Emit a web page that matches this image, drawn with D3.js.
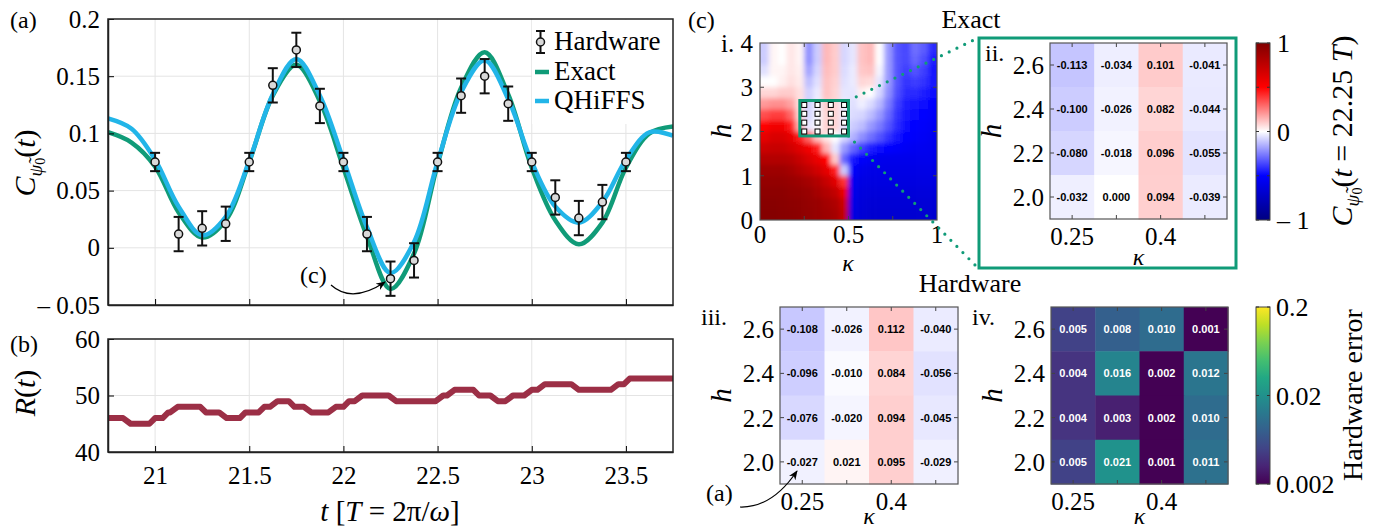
<!DOCTYPE html>
<html>
<head>
<meta charset="utf-8">
<script src="https://d3js.org/d3.v7.min.js"></script>
<style>
  body { margin: 0; background: #fff; }
  text { font-family: 'Liberation Serif', 'DejaVu Serif', serif; fill: #000; }
  .num { font-family: 'Liberation Sans', Arial, sans-serif; font-weight: bold; font-size: 11px; }
</style>
</head>
<body>
<svg id="fig" width="1377" height="529"></svg>
<script>
// ---------- panel (a): correlator vs time ----------
const tCurve = [20.75, 20.875, 21, 21.125, 21.25, 21.375, 21.5, 21.625, 21.75, 21.875, 22, 22.125, 22.25,
                22.375, 22.5, 22.625, 22.75, 22.875, 23, 23.125, 23.25, 23.375, 23.5, 23.625, 23.75];
const exactVal = [0.101, 0.092, 0.071, 0.031, 0.009, 0.024, 0.075, 0.133, 0.160, 0.128, 0.070, 0.010, -0.036,
                  -0.005, 0.073, 0.140, 0.171, 0.134, 0.070, 0.024, 0.003, 0.022, 0.070, 0.100, 0.106];
const qhiffsVal = [0.113, 0.104, 0.077, 0.036, 0.011, 0.027, 0.076, 0.134, 0.165, 0.133, 0.077, 0.018, -0.022,
                   0.005, 0.075, 0.136, 0.164, 0.130, 0.075, 0.036, 0.022, 0.040, 0.077, 0.101, 0.098];
const tHw = [21, 21.125, 21.25, 21.375, 21.5, 21.625, 21.75, 21.875, 22, 22.125, 22.25, 22.375, 22.5,
             22.625, 22.75, 22.875, 23, 23.125, 23.25, 23.375, 23.5];
const hwVal = [0.075, 0.012, 0.017, 0.021, 0.075, 0.142, 0.173, 0.124, 0.075, 0.012, -0.027, -0.011, 0.075,
               0.133, 0.150, 0.126, 0.075, 0.044, 0.026, 0.040, 0.075];
const hwErr = [0.008, 0.015, 0.015, 0.015, 0.008, 0.015, 0.015, 0.015, 0.008, 0.015, 0.015, 0.015, 0.008,
               0.015, 0.015, 0.015, 0.008, 0.015, 0.015, 0.015, 0.008];
const tTicks = [21, 21.5, 22, 22.5, 23, 23.5];
const tTickLabels = ["21", "21.5", "22", "22.5", "23", "23.5"];
const cTicks = [-0.05, 0, 0.05, 0.1, 0.15, 0.2];
const cTickLabels = ["\u2013 0.05", "0", "0.05", "0.1", "0.15", "0.2"];

// ---------- panel (b): R(t) ----------
const rT = [20.75, 20.83, 20.87, 20.97, 21.0, 21.04, 21.07, 21.08, 21.12, 21.24, 21.27, 21.34, 21.38, 21.45,
            21.48, 21.55, 21.58, 21.61, 21.65, 21.71, 21.74, 21.79, 21.83, 21.92, 21.96, 22.0, 22.03, 22.06,
            22.1, 22.24, 22.28, 22.49, 22.53, 22.55, 22.59, 22.69, 22.72, 22.78, 22.82, 22.86, 22.9, 22.96,
            23.0, 23.03, 23.07, 23.21, 23.25, 23.42, 23.46, 23.49, 23.52, 23.75];
const rV = [46, 46, 45, 45, 46, 46, 47, 47, 48, 48, 47, 47, 46, 46,
            47, 47, 48, 48, 49, 49, 48, 48, 47, 47, 48, 48, 49, 49,
            50, 50, 49, 49, 50, 50, 51, 51, 50, 50, 49, 49, 50, 50,
            51, 51, 52, 52, 51, 51, 52, 52, 53, 53];
const rTicks = [40, 50, 60];

// ---------- panel (c) i: exact map C(kappa, h) ----------
const kappaGrid = [0.025, 0.075, 0.125, 0.175, 0.225, 0.275, 0.325, 0.375, 0.425, 0.475,
                   0.525, 0.575, 0.625, 0.675, 0.725, 0.775, 0.825, 0.875, 0.925, 0.975];
const hGrid = [3.875, 3.625, 3.375, 3.125, 2.875, 2.625, 2.375, 2.125, 1.875, 1.625, 1.375, 1.125, 0.875, 0.625, 0.375, 0.125];
const field = [
  [-0.10, 0.02, 0.00, 0.05, 0.02, -0.22, -0.10, 0.14, 0.10, -0.08, -0.05, 0.12, 0.14, 0.00, -0.20, -0.34, -0.36, -0.28, -0.32, -0.42],
  [-0.10, 0.02, 0.00, 0.05, 0.02, -0.22, -0.10, 0.14, 0.10, -0.08, -0.05, 0.12, 0.14, 0.00, -0.20, -0.34, -0.36, -0.30, -0.35, -0.44],
  [-0.06, 0.02, 0.02, 0.05, 0.03, -0.18, -0.08, 0.13, 0.10, -0.07, -0.04, 0.11, 0.12, -0.02, -0.20, -0.34, -0.38, -0.34, -0.38, -0.45],
  [0.00, 0.00, 0.03, 0.06, 0.04, -0.13, -0.06, 0.12, 0.09, -0.06, -0.04, 0.08, 0.07, -0.05, -0.20, -0.34, -0.40, -0.38, -0.40, -0.46],
  [0.08, 0.08, 0.10, 0.10, 0.06, -0.09, -0.04, 0.12, 0.08, -0.05, -0.05, 0.03, 0.00, -0.08, -0.22, -0.35, -0.42, -0.42, -0.44, -0.48],
  [0.20, 0.22, 0.22, 0.18, 0.06, -0.09, -0.03, 0.10, 0.08, -0.04, -0.06, -0.03, -0.07, -0.14, -0.26, -0.38, -0.44, -0.46, -0.47, -0.50],
  [0.35, 0.38, 0.38, 0.30, 0.08, -0.08, -0.02, 0.08, 0.08, -0.04, -0.07, -0.08, -0.13, -0.20, -0.30, -0.40, -0.45, -0.48, -0.50, -0.52],
  [0.50, 0.55, 0.55, 0.45, 0.15, -0.05, -0.01, 0.09, 0.08, -0.05, -0.10, -0.13, -0.20, -0.26, -0.34, -0.42, -0.47, -0.50, -0.52, -0.54],
  [0.60, 0.65, 0.65, 0.60, 0.45, 0.30, 0.12, 0.05, 0.00, -0.08, -0.15, -0.22, -0.28, -0.34, -0.40, -0.45, -0.49, -0.52, -0.54, -0.56],
  [0.70, 0.72, 0.72, 0.68, 0.62, 0.55, 0.45, 0.15, -0.05, -0.20, -0.30, -0.38, -0.44, -0.48, -0.50, -0.52, -0.54, -0.55, -0.56, -0.57],
  [0.80, 0.80, 0.80, 0.78, 0.72, 0.65, 0.58, 0.50, 0.10, -0.30, -0.45, -0.52, -0.55, -0.57, -0.58, -0.58, -0.58, -0.58, -0.58, -0.58],
  [0.88, 0.88, 0.88, 0.85, 0.80, 0.75, 0.68, 0.60, 0.45, -0.10, -0.52, -0.58, -0.60, -0.60, -0.60, -0.60, -0.60, -0.60, -0.60, -0.60],
  [0.92, 0.92, 0.92, 0.90, 0.88, 0.85, 0.80, 0.72, 0.62, 0.40, -0.56, -0.61, -0.62, -0.62, -0.62, -0.62, -0.62, -0.62, -0.62, -0.62],
  [0.95, 0.95, 0.95, 0.93, 0.92, 0.90, 0.85, 0.80, 0.74, 0.58, -0.58, -0.63, -0.64, -0.64, -0.64, -0.64, -0.64, -0.64, -0.64, -0.64],
  [0.97, 0.97, 0.96, 0.95, 0.94, 0.92, 0.90, 0.86, 0.82, 0.70, -0.60, -0.65, -0.66, -0.66, -0.66, -0.66, -0.66, -0.66, -0.66, -0.66],
  [0.98, 0.98, 0.97, 0.96, 0.95, 0.93, 0.91, 0.88, 0.85, 0.74, -0.62, -0.66, -0.68, -0.68, -0.68, -0.68, -0.68, -0.68, -0.68, -0.68]
];

// ---------- panels ii, iii, iv: 4x4 zoom ----------
const kCells = [0.25, 0.325, 0.4, 0.475];
const kLabels = ["0.25", "", "0.4", ""];
const hCells = [2.6, 2.4, 2.2, 2.0];
const hLabels = ["2.6", "2.4", "2.2", "2.0"];
const exactCells = [
  [-0.113, -0.034, 0.101, -0.041],
  [-0.100, -0.026, 0.082, -0.044],
  [-0.080, -0.018, 0.096, -0.055],
  [-0.032, 0.000, 0.094, -0.039]
];
const hwCells = [
  [-0.108, -0.026, 0.112, -0.040],
  [-0.096, -0.010, 0.084, -0.056],
  [-0.076, -0.020, 0.094, -0.045],
  [-0.027, 0.021, 0.095, -0.029]
];
const errCells = [
  [0.005, 0.008, 0.010, 0.001],
  [0.004, 0.016, 0.002, 0.012],
  [0.004, 0.003, 0.002, 0.010],
  [0.005, 0.021, 0.001, 0.011]
];

const green = "#109b78", cyan = "#22b5e8", maroon = "#9c2f46";
const tickFont = 25;

const svg = d3.select("#fig");
const defs = svg.append("defs");
defs.append("marker").attr("id", "arr").attr("viewBox", "0 0 10 10").attr("refX", 9).attr("refY", 5)
  .attr("markerWidth", 8).attr("markerHeight", 8).attr("orient", "auto")
  .append("path").attr("d", "M0,1 L10,5 L0,9 L3,5 z").attr("fill", "#000");

const redBlue = d3.scaleLinear().domain([-1, -0.5, 0, 0.5, 1])
  .range(["#000080", "#0000ff", "#ffffff", "#ff0000", "#800000"]).clamp(true);
const errColor = d3.scaleLog().domain([0.002, 0.2]).range([0, 1]).clamp(true);

function label(x, y, str, size, anchor) {
  return svg.append("text").attr("x", x).attr("y", y).attr("font-size", size)
    .attr("text-anchor", anchor || "start").text(str);
}

// correlator symbol C_{psi~0}(...) as tspans
function corrLabel(x, y, tail) {
  const t = svg.append("text").attr("transform", `translate(${x},${y}) rotate(-90)`)
    .attr("text-anchor", "middle").attr("font-size", 30);
  t.append("tspan").attr("font-style", "italic").text("C");
  t.append("tspan").attr("font-size", 19).attr("font-style", "italic").attr("dy", 7).text("\u03c8\u0303");
  t.append("tspan").attr("font-size", 14).attr("dy", 3).text("0");
  t.append("tspan").attr("dy", -10).text("(");
  tail.forEach(p => t.append("tspan").attr("font-style", p[1] ? "italic" : "normal").text(p[0]));
  return t;
}

// ================= panel (a) =================
const xT = d3.scaleLinear().domain([20.75, 23.75]).range([108, 673]);
const yA = d3.scaleLinear().domain([-0.05, 0.2]).range([305, 19]);
const yB = d3.scaleLinear().domain([40, 60]).range([452, 339]);

const gA = svg.append("g");
tTicks.forEach(t => gA.append("line").attr("x1", xT(t)).attr("x2", xT(t)).attr("y1", yA(0.2)).attr("y2", yA(-0.05))
  .attr("stroke", "#e4e4e4"));
[0, 0.05, 0.1, 0.15].forEach(v => gA.append("line").attr("x1", xT.range()[0]).attr("x2", xT.range()[1])
  .attr("y1", yA(v)).attr("y2", yA(v)).attr("stroke", "#e4e4e4"));

defs.append("clipPath").attr("id", "clipA").append("rect")
  .attr("x", 108).attr("y", 19).attr("width", 565).attr("height", 286);

const curveLine = d3.line().x(d => xT(d[0])).y(d => yA(d[1])).curve(d3.curveCatmullRom.alpha(0.5));
gA.append("path").attr("clip-path", "url(#clipA)")
  .attr("d", curveLine(tCurve.map((t, i) => [t, exactVal[i]])))
  .attr("fill", "none").attr("stroke", green).attr("stroke-width", 4.5);
gA.append("path").attr("clip-path", "url(#clipA)")
  .attr("d", curveLine(tCurve.map((t, i) => [t, qhiffsVal[i]])))
  .attr("fill", "none").attr("stroke", cyan).attr("stroke-width", 4.5);

const hw = gA.selectAll("g.hw").data(tHw.map((t, i) => ({ t: t, v: hwVal[i], e: hwErr[i] })))
  .enter().append("g");
hw.append("line").attr("x1", d => xT(d.t)).attr("x2", d => xT(d.t))
  .attr("y1", d => yA(d.v + d.e)).attr("y2", d => yA(d.v - d.e)).attr("stroke", "#111").attr("stroke-width", 2);
hw.append("line").attr("x1", d => xT(d.t) - 5).attr("x2", d => xT(d.t) + 5)
  .attr("y1", d => yA(d.v + d.e)).attr("y2", d => yA(d.v + d.e)).attr("stroke", "#111").attr("stroke-width", 2);
hw.append("line").attr("x1", d => xT(d.t) - 5).attr("x2", d => xT(d.t) + 5)
  .attr("y1", d => yA(d.v - d.e)).attr("y2", d => yA(d.v - d.e)).attr("stroke", "#111").attr("stroke-width", 2);
hw.append("circle").attr("cx", d => xT(d.t)).attr("cy", d => yA(d.v)).attr("r", 4)
  .attr("fill", "#d9d9d9").attr("stroke", "#111").attr("stroke-width", 1.5);

// axes (a)
gA.append("g").attr("transform", "translate(108,0)")
  .call(d3.axisLeft(yA).tickValues(cTicks).tickFormat((d, i) => cTickLabels[i]).tickSizeInner(-6).tickSizeOuter(0).tickPadding(8));
gA.append("g").attr("transform", "translate(0,305)")
  .call(d3.axisBottom(xT).tickValues(tTicks).tickFormat("").tickSizeInner(-6).tickSizeOuter(0));
gA.append("rect").attr("x", 108).attr("y", 19).attr("width", 565).attr("height", 286)
  .attr("fill", "none").attr("stroke", "#222").attr("stroke-width", 1.5);

// legend
const leg = gA.append("g");
leg.append("rect").attr("x", 532).attr("y", 20).attr("width", 140).attr("height", 104).attr("fill", "#fff");
leg.append("line").attr("x1", 540.5).attr("x2", 540.5).attr("y1", 31).attr("y2", 53).attr("stroke", "#111").attr("stroke-width", 2);
leg.append("line").attr("x1", 536).attr("x2", 545).attr("y1", 31).attr("y2", 31).attr("stroke", "#111").attr("stroke-width", 2);
leg.append("line").attr("x1", 536).attr("x2", 545).attr("y1", 53).attr("y2", 53).attr("stroke", "#111").attr("stroke-width", 2);
leg.append("circle").attr("cx", 540.5).attr("cy", 42).attr("r", 4).attr("fill", "#d9d9d9").attr("stroke", "#111").attr("stroke-width", 1.5);
leg.append("line").attr("x1", 535).attr("x2", 549).attr("y1", 72).attr("y2", 72).attr("stroke", green).attr("stroke-width", 4.5);
leg.append("line").attr("x1", 535).attr("x2", 549).attr("y1", 101).attr("y2", 101).attr("stroke", cyan).attr("stroke-width", 4.5);
[["Hardware", 50], ["Exact", 80], ["QHiFFS", 109]].forEach(d =>
  leg.append("text").attr("x", 554).attr("y", d[1]).attr("font-size", 27).text(d[0]));

// annotation (c)
label(300, 283, "(c)", 24);
svg.append("path").attr("d", "M331,285 Q352,304 385,282").attr("fill", "none").attr("stroke", "#000")
  .attr("stroke-width", 1.2).attr("marker-end", "url(#arr)");

// ================= panel (b) =================
const gB = svg.append("g");
tTicks.forEach(t => gB.append("line").attr("x1", xT(t)).attr("x2", xT(t)).attr("y1", yB(60)).attr("y2", yB(40))
  .attr("stroke", "#e4e4e4"));
gB.append("line").attr("x1", 108).attr("x2", 673).attr("y1", yB(50)).attr("y2", yB(50)).attr("stroke", "#e4e4e4");
defs.append("clipPath").attr("id", "clipB").append("rect")
  .attr("x", 108).attr("y", 339).attr("width", 565).attr("height", 113);
gB.append("path").attr("clip-path", "url(#clipB)")
  .attr("d", d3.line().x(d => xT(d[0])).y(d => yB(d[1]))(rT.map((t, i) => [t, rV[i]])))
  .attr("fill", "none").attr("stroke", maroon).attr("stroke-width", 6).attr("stroke-linejoin", "round");
gB.append("g").attr("transform", "translate(108,0)")
  .call(d3.axisLeft(yB).tickValues(rTicks).tickFormat(d3.format("d")).tickSizeInner(-6).tickSizeOuter(0).tickPadding(8));
gB.append("g").attr("transform", "translate(0,452)")
  .call(d3.axisBottom(xT).tickValues(tTicks).tickFormat((d, i) => tTickLabels[i]).tickSizeInner(-6).tickSizeOuter(0).tickPadding(14));
gB.append("rect").attr("x", 108).attr("y", 339).attr("width", 565).attr("height", 113)
  .attr("fill", "none").attr("stroke", "#222").attr("stroke-width", 1.5);

svg.selectAll(".tick text").attr("font-size", tickFont).attr("font-family", "'Liberation Serif', 'DejaVu Serif', serif");
svg.selectAll(".domain").attr("stroke", "#222").attr("stroke-width", 1.5);

// axis labels a/b
label(10, 28, "(a)", 24);
label(10, 352, "(b)", 24);
corrLabel(35, 163, [["t", true], [")", false]]);
const ylb = svg.append("text").attr("transform", "translate(35,393) rotate(-90)").attr("text-anchor", "middle").attr("font-size", 30);
ylb.append("tspan").attr("font-style", "italic").text("R");
ylb.append("tspan").text("(");
ylb.append("tspan").attr("font-style", "italic").text("t");
ylb.append("tspan").text(")");
const xl = svg.append("text").attr("x", 390).attr("y", 521).attr("text-anchor", "middle").attr("font-size", 29);
xl.append("tspan").attr("font-style", "italic").text("t");
xl.append("tspan").text(" [");
xl.append("tspan").attr("font-style", "italic").text("T");
xl.append("tspan").text(" = 2\u03c0/");
xl.append("tspan").attr("font-style", "italic").text("\u03c9");
xl.append("tspan").text("]");

// ================= panel (c) i =================
label(688, 28, "(c)", 24);
label(971, 28, "Exact", 26, "middle");
label(970, 292, "Hardware", 26, "middle");

const xi = d3.scaleLinear().domain([0, 1]).range([760, 937]);
const yi = d3.scaleLinear().domain([0, 4]).range([220, 43]);
defs.append("filter").attr("id", "soft").attr("x", -0.1).attr("y", -0.1).attr("width", 1.2).attr("height", 1.2)
  .append("feGaussianBlur").attr("stdDeviation", 2.6);
defs.append("clipPath").attr("id", "clipI").append("rect")
  .attr("x", 760).attr("y", 43).attr("width", 177).attr("height", 177);
const cw = xi(0.05) - xi(0), ch = yi(0) - yi(0.25);
const cells = [];
field.forEach((row, r) => row.forEach((v, c) => cells.push({ k: kappaGrid[c], h: hGrid[r], v: v, r: r, c: c })));
const gI = svg.append("g").attr("clip-path", "url(#clipI)").append("g").attr("filter", "url(#soft)");
gI.selectAll("rect").data(cells).enter().append("rect")
  .attr("x", d => xi(d.k) - cw / 2 - (d.c === 0 ? 10 : 0))
  .attr("y", d => yi(d.h) - ch / 2 - (d.r === 0 ? 10 : 0))
  .attr("width", d => cw + 0.6 + (d.c === 0 || d.c === kappaGrid.length - 1 ? 10 : 0))
  .attr("height", d => ch + 0.6 + (d.r === 0 || d.r === hGrid.length - 1 ? 10 : 0))
  .attr("fill", d => redBlue(d.v));

const frameI = svg.append("g");
[0.25, 0.5, 0.75].forEach(k => {
  frameI.append("line").attr("x1", xi(k)).attr("x2", xi(k)).attr("y1", 220).attr("y2", 216).attr("stroke", "#444");
  frameI.append("line").attr("x1", xi(k)).attr("x2", xi(k)).attr("y1", 43).attr("y2", 47).attr("stroke", "#444");
});
[1, 2, 3].forEach(h => {
  frameI.append("line").attr("x1", 760).attr("x2", 764).attr("y1", yi(h)).attr("y2", yi(h)).attr("stroke", "#444");
  frameI.append("line").attr("x1", 937).attr("x2", 933).attr("y1", yi(h)).attr("y2", yi(h)).attr("stroke", "#444");
});
frameI.append("rect").attr("x", 760).attr("y", 43).attr("width", 177).attr("height", 177)
  .attr("fill", "none").attr("stroke", "#555").attr("stroke-width", 1.2);
[0, 1, 2, 3, 4].forEach(h => label(753, yi(h) + 9, String(h), tickFont, "end"));
label(721, yi(4) + 9, "i.", tickFont);
[[0, "0"], [0.5, "0.5"], [1, "1"]].forEach(d => label(xi(d[0]), 243, d[1], tickFont, "middle"));
svg.append("text").attr("x", 848).attr("y", 271).attr("text-anchor", "middle").attr("font-size", 24)
  .attr("font-style", "italic").text("\u03ba");
svg.append("text").attr("transform", "translate(731,131) rotate(-90)").attr("text-anchor", "middle")
  .attr("font-size", 29).attr("font-style", "italic").text("h");

// zoom box and sample squares
svg.append("rect").attr("x", xi(0.225)).attr("y", yi(2.7)).attr("width", xi(0.5) - xi(0.225))
  .attr("height", yi(1.9) - yi(2.7)).attr("fill", "none").attr("stroke", green).attr("stroke-width", 3);
kCells.forEach(k => hCells.forEach(h => svg.append("rect").attr("x", xi(k) - 2.5).attr("y", yi(h) - 2.5)
  .attr("width", 5).attr("height", 5).attr("fill", "#fff").attr("stroke", "#000").attr("stroke-width", 1)));

// frame around panel ii and dotted connectors
svg.append("rect").attr("x", 979).attr("y", 38).attr("width", 257).attr("height", 230)
  .attr("fill", "none").attr("stroke", green).attr("stroke-width", 3);
[[xi(0.5), yi(2.7), 978, 38], [xi(0.5), yi(1.9), 978, 268]].forEach(d =>
  svg.append("line").attr("x1", d[0]).attr("y1", d[1]).attr("x2", d[2]).attr("y2", d[3])
    .attr("stroke", green).attr("stroke-width", 3.2).attr("stroke-linecap", "round").attr("stroke-dasharray", "0 8.6"));

// ================= 4x4 heatmaps =================
function heat(x0, y0, x1, y1, grid, colorOf, textFill, tag, tagX, kappaY) {
  const xs = d3.scaleBand().domain(kCells).range([x0, x1]);
  const ys = d3.scaleBand().domain(hCells).range([y0, y1]);
  const g = svg.append("g");
  grid.forEach((row, r) => row.forEach((v, c) => {
    g.append("rect").attr("x", xs(kCells[c])).attr("y", ys(hCells[r]))
      .attr("width", xs.bandwidth() + 0.5).attr("height", ys.bandwidth() + 0.5).attr("fill", colorOf(v));
    g.append("text").attr("class", "num").attr("x", xs(kCells[c]) + xs.bandwidth() / 2)
      .attr("y", ys(hCells[r]) + ys.bandwidth() / 2 + 4).attr("text-anchor", "middle")
      .style("fill", textFill).text(v.toFixed(3));
  }));
  kCells.forEach(k => {
    const x = xs(k) + xs.bandwidth() / 2;
    g.append("line").attr("x1", x).attr("x2", x).attr("y1", y1).attr("y2", y1 - 4).attr("stroke", "#444");
    g.append("line").attr("x1", x).attr("x2", x).attr("y1", y0).attr("y2", y0 + 4).attr("stroke", "#444");
  });
  hCells.forEach((h, i) => {
    const y = ys(h) + ys.bandwidth() / 2;
    g.append("line").attr("x1", x0).attr("x2", x0 + 4).attr("y1", y).attr("y2", y).attr("stroke", "#444");
    g.append("line").attr("x1", x1).attr("x2", x1 - 4).attr("y1", y).attr("y2", y).attr("stroke", "#444");
    label(x0 - 6, y + 9, hLabels[i], tickFont, "end");
  });
  kCells.forEach((k, i) => label(xs(k) + xs.bandwidth() / 2, y1 + 26, kLabels[i], tickFont, "middle"));
  g.append("rect").attr("x", x0).attr("y", y0).attr("width", x1 - x0).attr("height", y1 - y0)
    .attr("fill", "none").attr("stroke", "#555").attr("stroke-width", 1.2);
  svg.append("text").attr("x", (x0 + x1) / 2).attr("y", kappaY).attr("text-anchor", "middle")
    .attr("font-size", 24).attr("font-style", "italic").text("\u03ba");
  svg.append("text").attr("transform", `translate(${x0 - 49},${(y0 + y1) / 2}) rotate(-90)`)
    .attr("text-anchor", "middle").attr("font-size", 29).attr("font-style", "italic").text("h");
  label(tagX, y0 + 18, tag, 24);
}
heat(1050, 43, 1227, 219, exactCells, redBlue, "#000", "ii.", 985, 265);
heat(780, 307, 958, 484, hwCells, redBlue, "#000", "iii.", 701, 524);
heat(1051, 307, 1228, 484, errCells, v => d3.interpolateViridis(errColor(v)), "#fff", "iv.", 972, 524);

// annotation (a) in iii
label(706, 501, "(a)", 24);
svg.append("path").attr("d", "M740,507 Q772,508 797,471").attr("fill", "none").attr("stroke", "#000")
  .attr("stroke-width", 1.2).attr("marker-end", "url(#arr)");

// ================= colorbars =================
const gradC = defs.append("linearGradient").attr("id", "gradC").attr("x1", 0).attr("y1", 1).attr("x2", 0).attr("y2", 0);
[-1, -0.5, 0, 0.5, 1].forEach(v => gradC.append("stop").attr("offset", (v + 1) / 2).attr("stop-color", redBlue(v)));
const cbC = d3.scaleLinear().domain([-1, 1]).range([220, 43]);
svg.append("rect").attr("x", 1256).attr("y", 43).attr("width", 14).attr("height", 177)
  .attr("fill", "url(#gradC)").attr("stroke", "#444").attr("stroke-width", 1);
[-1, -0.5, 0, 0.5, 1].forEach(v => {
  svg.append("line").attr("x1", 1256).attr("x2", 1259).attr("y1", cbC(v)).attr("y2", cbC(v)).attr("stroke", "#333");
  svg.append("line").attr("x1", 1270).attr("x2", 1267).attr("y1", cbC(v)).attr("y2", cbC(v)).attr("stroke", "#333");
});
[[1, "1"], [0, "0"], [-1, "\u2013 1"]].forEach(d => label(1277, cbC(d[0]) + 9, d[1], 26));
corrLabel(1352, 131, [["t", true], [" = 22.25 ", false], ["T", true], [")", false]]);

const gradE = defs.append("linearGradient").attr("id", "gradE").attr("x1", 0).attr("y1", 1).attr("x2", 0).attr("y2", 0);
d3.range(0, 1.0001, 0.1).forEach(f => gradE.append("stop").attr("offset", f).attr("stop-color", d3.interpolateViridis(f)));
const cbE = d3.scaleLog().domain([0.002, 0.2]).range([484, 307]);
svg.append("rect").attr("x", 1256).attr("y", 307).attr("width", 14).attr("height", 177)
  .attr("fill", "url(#gradE)").attr("stroke", "#444").attr("stroke-width", 1);
[0.002, 0.02, 0.2].forEach(v => {
  svg.append("line").attr("x1", 1256).attr("x2", 1259).attr("y1", cbE(v)).attr("y2", cbE(v)).attr("stroke", "#333");
  svg.append("line").attr("x1", 1270).attr("x2", 1267).attr("y1", cbE(v)).attr("y2", cbE(v)).attr("stroke", "#333");
});
[[0.2, "0.2"], [0.02, "0.02"], [0.002, "0.002"]].forEach(d => label(1276, cbE(d[0]) + 9, d[1], 26));
svg.append("text").attr("transform", "translate(1362,395) rotate(-90)").attr("text-anchor", "middle")
  .attr("font-size", 28).text("Hardware error");
</script>
</body>
</html>
